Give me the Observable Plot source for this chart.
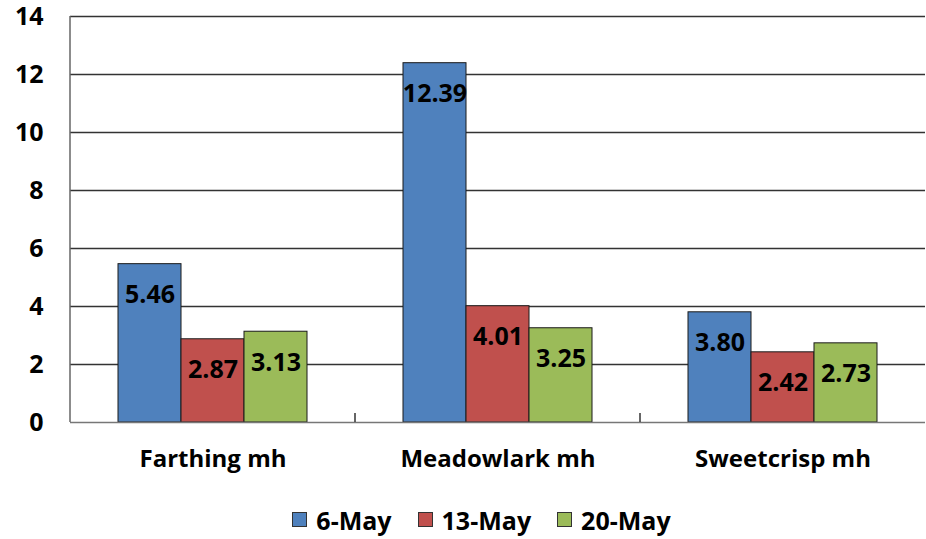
<!DOCTYPE html>
<html>
<head>
<meta charset="utf-8">
<script src="https://cdn.jsdelivr.net/npm/d3@7"></script>
<script src="https://cdn.jsdelivr.net/npm/@observablehq/plot@0.6"></script>
<style>
  html, body { margin: 0; padding: 0; background: #fff; }
  body { width: 926px; height: 539px; overflow: hidden; font-family: "Open Sans", Lato, sans-serif; }
  #legend { display: flex; justify-content: center; align-items: center; gap: 26px; height: 49px; font-weight: bold; font-size: 25px; color: #000; padding-left: 37px; padding-top: 10px; box-sizing: border-box; }
  .item { display: flex; align-items: center; gap: 9px; }
  .sw { width: 13px; height: 13px; border: 1px solid #333; }
</style>
</head>
<body>
<div id="chart"></div>
<div id="legend"></div>
<script>
const categories = ["Farthing mh", "Meadowlark mh", "Sweetcrisp mh"];
const series = ["6-May", "13-May", "20-May"];
const may6 = [5.46, 12.39, 3.80];
const may13 = [2.87, 4.01, 2.42];
const may20 = [3.13, 3.25, 2.73];
const yTicks = [0, 2, 4, 6, 8, 10, 12, 14];
const colors = ["#4F81BD", "#C0504D", "#9BBB59"];

const seriesValues = [may6, may13, may20];
const data = [];
categories.forEach((c, i) => {
  series.forEach((s, j) => data.push({category: c, series: s, value: seriesValues[j][i]}));
});

const chart = Plot.plot({
  width: 926,
  height: 490,
  marginLeft: 70,
  marginRight: 1,
  marginTop: 16,
  marginBottom: 68,
  style: {fontFamily: "'Open Sans', Lato, sans-serif", fontSize: "24px", fontWeight: "bold", color: "#000", background: "#fff"},
  fx: {domain: categories, padding: 0, label: null, axis: "bottom", tickSize: 0, tickPadding: 27},
  x: {domain: series, paddingInner: 0, paddingOuter: 0.75, axis: null},
  y: {domain: [0, 14], ticks: yTicks, label: null, tickSize: 0, tickPadding: 27, tickFormat: d => d},
  color: {domain: series, range: colors},
  marks: [
    Plot.ruleY(yTicks.slice(1), {stroke: "#333", strokeWidth: 1.5}),
    Plot.barY(data, {fx: "category", x: "series", y: "value", fill: "series", stroke: "#1a1a1a", strokeWidth: 1}),
    Plot.text(data, {fx: "category", x: "series", y: "value", text: d => d.value.toFixed(2), dy: 31, fill: "#000", fontSize: 25, fontWeight: "bold"}),
    Plot.ruleY([0], {stroke: "#777", strokeWidth: 1.5})
  ]
});
document.getElementById("chart").appendChild(chart);

// y tick labels slightly larger than the category labels
d3.select(chart).selectAll("[aria-label='y-axis tick label'] text, [aria-label='y-axis'] text").style("font-size", "25px");

// axis lines and category tick marks, positioned from the chart's own scales
const ys = chart.scale("y");
const fxs = chart.scale("fx");
const svg = d3.select(chart);
const y0 = ys.apply(0), yTop = ys.apply(14);
const xLeft = fxs.apply(categories[0]);
svg.append("line").attr("x1", xLeft).attr("x2", xLeft).attr("y1", yTop).attr("y2", y0)
  .attr("stroke", "#666").attr("stroke-width", 1.5);
categories.slice(1).forEach(c => {
  const xb = fxs.apply(c);
  svg.append("line").attr("x1", xb).attr("x2", xb).attr("y1", y0).attr("y2", y0 - 9)
    .attr("stroke", "#333").attr("stroke-width", 1.5);
});

const legend = document.getElementById("legend");
series.forEach((s, i) => {
  const item = document.createElement("div");
  item.className = "item";
  const sw = document.createElement("div");
  sw.className = "sw";
  sw.style.background = colors[i];
  const t = document.createElement("span");
  t.textContent = s;
  item.appendChild(sw);
  item.appendChild(t);
  legend.appendChild(item);
});
</script>
</body>
</html>
